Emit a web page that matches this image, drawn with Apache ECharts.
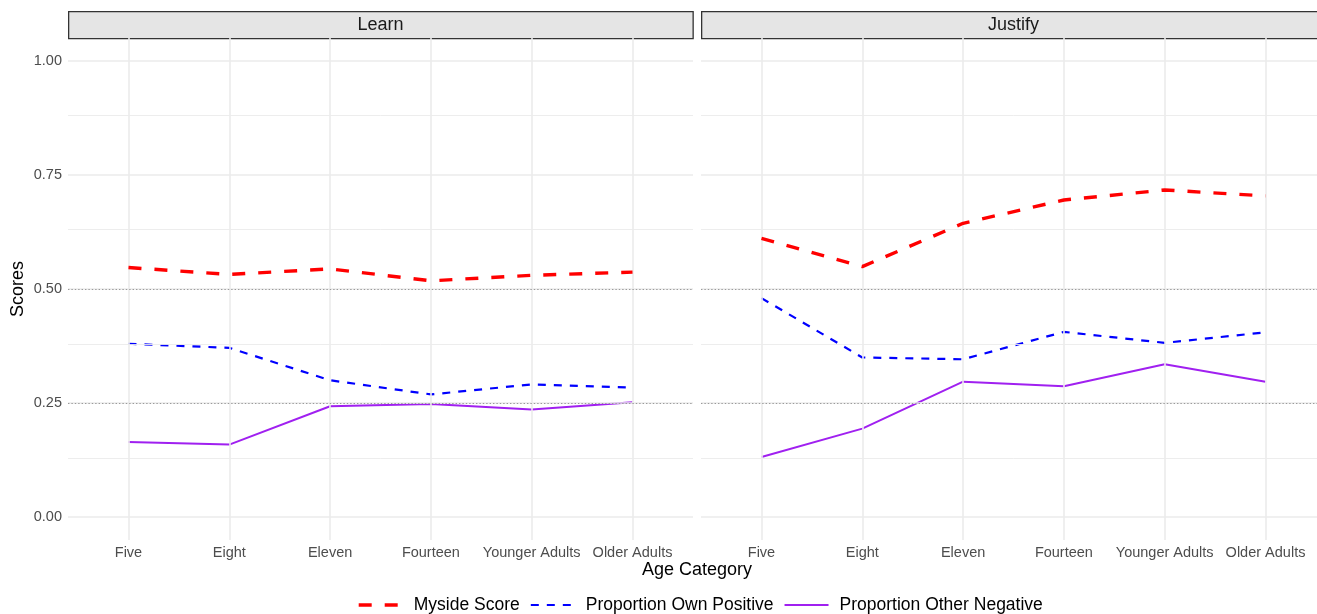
<!DOCTYPE html>
<html>
<head>
<meta charset="utf-8">
<script src="https://cdn.jsdelivr.net/npm/echarts@6/dist/echarts.min.js"></script>
<style>
  html, body { margin: 0; padding: 0; background: #fff; overflow: hidden; }
  /* the right facet runs a little past the window edge */
  #chart { width: 1330px; height: 614px; }
</style>
</head>
<body>
<div id="chart"></div>
<script>
// Age groups on the x axis (shared by both facets)
const categories = ['Five', 'Eight', 'Eleven', 'Fourteen', 'Younger Adults', 'Older Adults'];
const facets = ['Learn', 'Justify'];
const seriesNames = ['Myside Score', 'Proportion Own Positive', 'Proportion Other Negative'];

// Learn facet
const learnMyside = [0.547, 0.532, 0.544, 0.518, 0.530, 0.537];
const learnOwnPositive = [0.380, 0.371, 0.300, 0.269, 0.291, 0.284];
const learnOtherNegative = [0.165, 0.159, 0.243, 0.248, 0.236, 0.252];

// Justify facet
const justifyMyside = [0.611, 0.549, 0.644, 0.695, 0.717, 0.704];
const justifyOwnPositive = [0.480, 0.350, 0.346, 0.406, 0.382, 0.405];
const justifyOtherNegative = [0.132, 0.194, 0.297, 0.287, 0.335, 0.297];

// Y axis tick labels, minor grid positions and reference lines
const yTicks = [0, 0.25, 0.5, 0.75, 1];
const yMinor = [0.125, 0.375, 0.625, 0.875];
const refLines = [0.25, 0.5];

const FONT = '"Liberation Sans", Arial, Helvetica, sans-serif';
const GRID_COLOR = '#EBEBEB';

const panelData = [
  [learnMyside, learnOwnPositive, learnOtherNegative],
  [justifyMyside, justifyOwnPositive, justifyOtherNegative]
];

const styles = [
  { color: '#FF0000', width: 3.4, type: [13, 13] },
  { color: '#0000FF', width: 2.2, type: [8, 8] },
  { color: '#A020F0', width: 2, type: 'solid' }
];

const PANEL_W = 625;
const panelLeft = [68, 701];
const TOP = 38, HEIGHT = 502;

const grids = panelLeft.map(l => ({ left: l, top: TOP, width: PANEL_W, height: HEIGHT }));

const nearInt = v => Math.abs(v - Math.round(v)) < 1e-6;

const xAxes = panelLeft.map((l, i) => ({
  type: 'value', gridIndex: i, min: 0.4, max: 6.6, interval: 0.2,
  axisLine: { show: false }, axisTick: { show: false }, splitLine: { show: false },
  axisLabel: {
    margin: 5, fontSize: 14.5, color: '#4D4D4D', fontFamily: FONT,
    formatter: v => nearInt(v) && v >= 1 && v <= categories.length ? categories[Math.round(v) - 1] : ''
  }
}));

const yAxes = panelLeft.map((l, i) => ({
  type: 'value', gridIndex: i, min: -0.05, max: 1.05, interval: 0.05,
  axisLine: { show: false }, axisTick: { show: false }, splitLine: { show: false },
  name: i === 0 ? 'Scores' : '', nameLocation: 'middle', nameGap: 41, nameRotate: 90,
  nameTextStyle: { fontSize: 18, color: '#000', fontFamily: FONT },
  axisLabel: {
    show: i === 0, margin: 6, fontSize: 14.5, color: '#4D4D4D', fontFamily: FONT,
    formatter: v => nearInt(v * 4) && v >= 0 && v <= 1 ? v.toFixed(2) : ''
  }
}));

const series = [];
panelLeft.forEach((l, p) => {
  // panel background: grid lines and dotted reference lines
  series.push({
    type: 'line', name: 'grid' + p, xAxisIndex: p, yAxisIndex: p, data: [],
    silent: true, z: 1,
    markLine: {
      silent: true, symbol: 'none', animation: false, label: { show: false },
      emphasis: { disabled: true },
      data: [
        ...categories.map((c, i) => ({ xAxis: i + 1, lineStyle: { color: GRID_COLOR, width: 1.6, type: 'solid' } })),
        ...yMinor.map(v => ({ yAxis: v, lineStyle: { color: GRID_COLOR, width: 0.9, type: 'solid' } })),
        ...yTicks.map(v => ({ yAxis: v, lineStyle: { color: GRID_COLOR, width: 1.6, type: 'solid' } })),
        ...refLines.map(v => ({ yAxis: v, lineStyle: { color: '#9A9A9A', width: 1.1, type: [1.4, 2] } }))
      ]
    }
  });
  panelData[p].forEach((vals, s) => {
    series.push({
      type: 'line', name: seriesNames[s], xAxisIndex: p, yAxisIndex: p,
      data: vals.map((v, i) => [i + 1, v]),
      symbol: 'none', showSymbol: false, smooth: false, z: 3 + (2 - s),
      animation: false,
      lineStyle: { color: styles[s].color, width: styles[s].width, type: styles[s].type, cap: 'butt' },
      itemStyle: { color: styles[s].color }
    });
  });
});

// facet strips
const graphics = [];
panelLeft.forEach((l, p) => {
  graphics.push({
    type: 'rect', left: l, top: 11, silent: true,
    shape: { width: PANEL_W - 0.5, height: 27 },
    style: { fill: '#E5E5E5', stroke: '#333333', lineWidth: 1.3 }
  });
  graphics.push({
    type: 'text', x: l + PANEL_W / 2, y: 25, silent: true,
    style: { text: facets[p], fontSize: 18, fill: '#1A1A1A', fontFamily: FONT, align: 'center', verticalAlign: 'middle' }
  });
});
graphics.push({
  type: 'text', x: 697, y: 570, silent: true,
  style: { text: 'Age Category', fontSize: 18, fill: '#000', fontFamily: FONT, align: 'center', verticalAlign: 'middle' }
});

const chart = echarts.init(document.getElementById('chart'), null, { renderer: 'canvas' });
chart.setOption({
  animation: false,
  backgroundColor: '#fff',
  grid: grids,
  xAxis: xAxes,
  yAxis: yAxes,
  series: series,
  graphic: graphics,
  legend: {
    data: seriesNames.map((n, s) => ({
      name: n,
      lineStyle: { color: styles[s].color, width: styles[s].width, type: styles[s].type, cap: 'butt' }
    })),
    left: 357, top: 596, padding: 0,
    itemWidth: 44, itemHeight: 16, itemGap: 10,
    itemStyle: { opacity: 0 },
    textStyle: { fontSize: 17.5, color: '#000', fontFamily: FONT, padding: [0, 0, 0, 6] },
    selectedMode: false
  }
});
</script>
</body>
</html>
